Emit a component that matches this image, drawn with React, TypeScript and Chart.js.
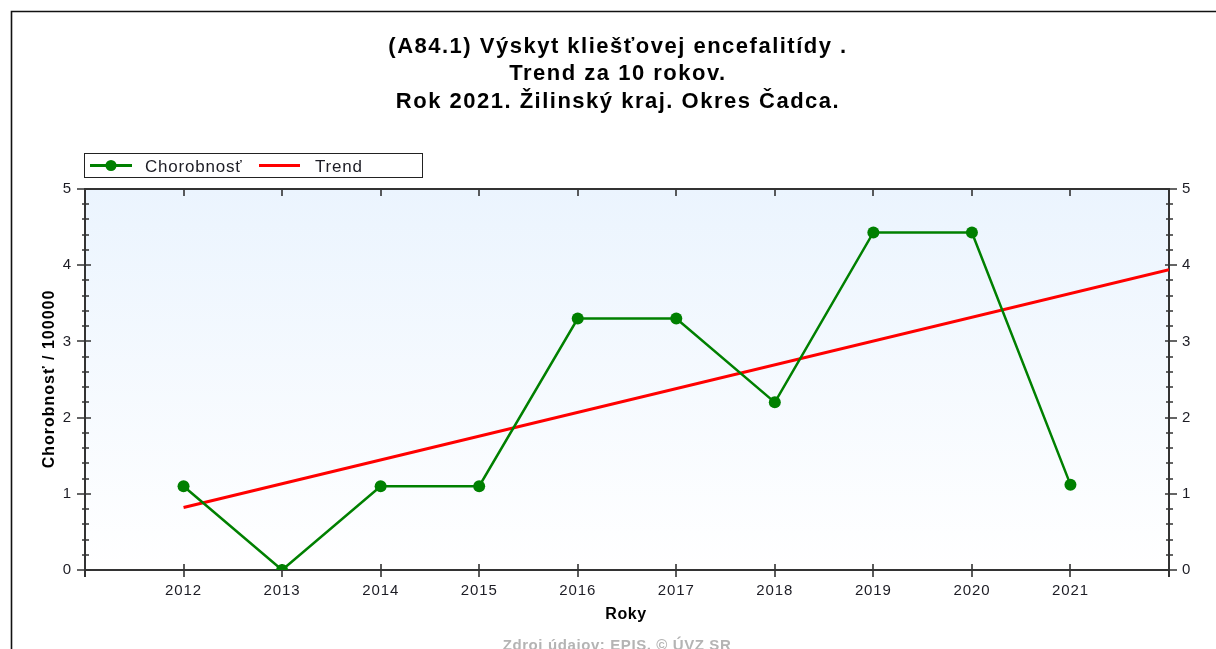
import React, { useEffect, useRef } from "react";
import { Chart, registerables } from "chart.js";

Chart.register(...registerables);

const titleLines = [
  "(A84.1) Výskyt kliešťovej encefalitídy .",
  "Trend za 10 rokov.",
  "Rok 2021. Žilinský kraj. Okres Čadca.",
];
const years = [2012, 2013, 2014, 2015, 2016, 2017, 2018, 2019, 2020, 2021];
const incidence = [1.1, 0, 1.1, 1.1, 3.3, 3.3, 2.2, 4.43, 4.43, 1.12];
const trendYears = [2012, 2022];
const trendValues = [0.82, 3.94];
const xAxisRange = [2011, 2022];
const yAxisRange = [0, 5];
const seriesLabel = "Chorobnosť";
const trendLabel = "Trend";
const yTitle = "Chorobnosť / 100000";
const xTitle = "Roky";
const sourceText = "Zdroj údajov: EPIS, © ÚVZ SR";

const FONT = "'Liberation Sans', Arial, sans-serif";
const GREEN = "#008000";
const RED = "#ff0000";
const AXIS = "#333333";
const TEXT = "#1c1c24";

const decorPlugin = {
  id: "decor",
  beforeDraw(chart: any) {
    const ctx = chart.ctx as CanvasRenderingContext2D;
    (ctx as any).letterSpacing = "0.9px";
    const { left, top, right, bottom } = chart.chartArea;
    ctx.save();
    // outer frame
    ctx.strokeStyle = "#111";
    ctx.lineWidth = 1.6;
    ctx.beginPath();
    ctx.moveTo(11.5, 649);
    ctx.lineTo(11.5, 11.5);
    ctx.lineTo(1216, 11.5);
    ctx.stroke();
    // plot background
    const g = ctx.createLinearGradient(0, top, 0, bottom);
    g.addColorStop(0, "#ebf4fe");
    g.addColorStop(1, "#ffffff");
    ctx.fillStyle = g;
    ctx.fillRect(left, top, right - left, bottom - top);
    // title
    ctx.fillStyle = "#000";
    ctx.font = `bold 22px ${FONT}`;
    (ctx as any).letterSpacing = "1.5px";
    ctx.textAlign = "center";
    ctx.textBaseline = "alphabetic";
    const baselines = [53, 80, 108];
    titleLines.forEach((t, i) => ctx.fillText(t, 618, baselines[i]));
    // legend
    ctx.strokeStyle = "#222";
    ctx.lineWidth = 1;
    ctx.strokeRect(84.5, 153.5, 338, 24);
    ctx.strokeStyle = GREEN;
    ctx.lineWidth = 3;
    ctx.beginPath();
    ctx.moveTo(90, 165.5);
    ctx.lineTo(132, 165.5);
    ctx.stroke();
    ctx.fillStyle = GREEN;
    ctx.beginPath();
    ctx.arc(111, 165.5, 5.5, 0, Math.PI * 2);
    ctx.fill();
    ctx.strokeStyle = RED;
    ctx.beginPath();
    ctx.moveTo(259, 165.5);
    ctx.lineTo(300, 165.5);
    ctx.stroke();
    ctx.fillStyle = TEXT;
    ctx.font = `17px ${FONT}`;
    (ctx as any).letterSpacing = "0.8px";
    ctx.textAlign = "left";
    ctx.fillText(seriesLabel, 145, 171.5);
    ctx.fillText(trendLabel, 315, 171.5);
    // y axis title
    ctx.save();
    ctx.translate(54, 379);
    ctx.rotate(-Math.PI / 2);
    ctx.font = `bold 16px ${FONT}`;
    (ctx as any).letterSpacing = "1px";
    ctx.textAlign = "center";
    ctx.fillStyle = "#000";
    ctx.fillText(yTitle, 0, 0);
    ctx.restore();
    // x axis title
    ctx.font = `bold 16px ${FONT}`;
    (ctx as any).letterSpacing = "0.6px";
    ctx.textAlign = "center";
    ctx.fillStyle = "#000";
    ctx.fillText(xTitle, 626, 619);
    // source
    ctx.font = `bold 15px ${FONT}`;
    (ctx as any).letterSpacing = "0.6px";
    ctx.fillStyle = "#b4b4b4";
    ctx.fillText(sourceText, 617, 650);
    ctx.restore();
  },
  beforeDatasetsDraw(chart: any) {
    const ctx = chart.ctx as CanvasRenderingContext2D;
    const { left, top, right, bottom } = chart.chartArea;
    const xs = chart.scales.x;
    const ys = chart.scales.y;
    ctx.save();
    ctx.strokeStyle = AXIS;
    ctx.lineWidth = 2;
    ctx.beginPath();
    ctx.moveTo(left - 1, top);
    ctx.lineTo(right + 1, top);
    ctx.moveTo(left - 1, bottom);
    ctx.lineTo(right + 1, bottom);
    ctx.moveTo(left, top);
    ctx.lineTo(left, bottom + 7);
    ctx.moveTo(right, top);
    ctx.lineTo(right, bottom + 7);
    ctx.stroke();
    ctx.lineWidth = 1.6;
    ctx.beginPath();
    xs.ticks.forEach((t: any) => {
      const px = Math.round(xs.getPixelForValue(t.value));
      if (t.value > xAxisRange[0] && t.value < xAxisRange[1]) {
        ctx.moveTo(px, bottom - 6);
        ctx.lineTo(px, bottom + 7);
        ctx.moveTo(px, top);
        ctx.lineTo(px, top + 7);
      }
    });
    const majors = ys.ticks.map((t: any) => t.value);
    majors.forEach((v: number, i: number) => {
      const py = Math.round(ys.getPixelForValue(v));
      ctx.moveTo(left - 8, py);
      ctx.lineTo(left + 6, py);
      ctx.moveTo(right - 4, py);
      ctx.lineTo(right + 8, py);
      if (i < majors.length - 1) {
        const next = majors[i + 1];
        for (let k = 1; k < 5; k++) {
          const my = Math.round(ys.getPixelForValue(v + ((next - v) * k) / 5));
          ctx.moveTo(left - 3, my);
          ctx.lineTo(left + 4, my);
          ctx.moveTo(right - 3, my);
          ctx.lineTo(right + 4, my);
        }
      }
    });
    ctx.stroke();
    ctx.restore();
  },
};

const tickFont = { family: FONT, size: 15 };

export default function App() {
  const ref = useRef<HTMLCanvasElement>(null);
  useEffect(() => {
    const chart = new Chart(ref.current as HTMLCanvasElement, {
      type: "line",
      data: {
        datasets: [
          {
            label: seriesLabel,
            data: years.map((x, i) => ({ x, y: incidence[i] })),
            borderColor: GREEN,
            backgroundColor: GREEN,
            borderWidth: 2.5,
            pointRadius: 6,
            pointHoverRadius: 6,
            pointBorderWidth: 0,
            tension: 0,
          },
          {
            label: trendLabel,
            data: trendYears.map((x, i) => ({ x, y: trendValues[i] })),
            borderColor: RED,
            backgroundColor: RED,
            borderWidth: 3,
            pointRadius: 0,
            tension: 0,
          },
        ],
      },
      options: {
        animation: false,
        responsive: false,
        devicePixelRatio: 1,
        events: [],
        layout: { padding: { top: 189, left: 0, right: 0, bottom: 0 } },
        plugins: {
          legend: { display: false },
          title: { display: false },
          tooltip: { enabled: false },
        },
        scales: {
          x: {
            type: "linear",
            position: "bottom",
            min: xAxisRange[0],
            max: xAxisRange[1],
            grid: { display: false, drawTicks: false },
            border: { display: false },
            ticks: {
              stepSize: 1,
              autoSkip: false,
              maxRotation: 0,
              padding: 12,
              color: TEXT,
              font: tickFont,
              callback: (v: any) => (years.includes(Number(v)) ? String(v) : ""),
            },
            afterFit: (s: any) => {
              s.height = 79;
            },
          },
          y: {
            type: "linear",
            position: "left",
            min: yAxisRange[0],
            max: yAxisRange[1],
            grid: { display: false, drawTicks: false },
            border: { display: false },
            ticks: { stepSize: 1, padding: 13, color: TEXT, font: tickFont },
            afterFit: (s: any) => {
              s.width = 85;
            },
          },
          y2: {
            type: "linear",
            position: "right",
            min: yAxisRange[0],
            max: yAxisRange[1],
            grid: { display: false, drawTicks: false },
            border: { display: false },
            ticks: { stepSize: 1, padding: 13, color: TEXT, font: tickFont },
            afterFit: (s: any) => {
              s.width = 47;
            },
          },
        },
      } as any,
      plugins: [decorPlugin],
    });
    return () => chart.destroy();
  }, []);
  return (
    <div style={{ position: "absolute", left: 0, top: 0, width: 1216, height: 649 }}>
      <canvas ref={ref} width={1216} height={649} style={{ display: "block", width: 1216, height: 649 }} />
    </div>
  );
}
